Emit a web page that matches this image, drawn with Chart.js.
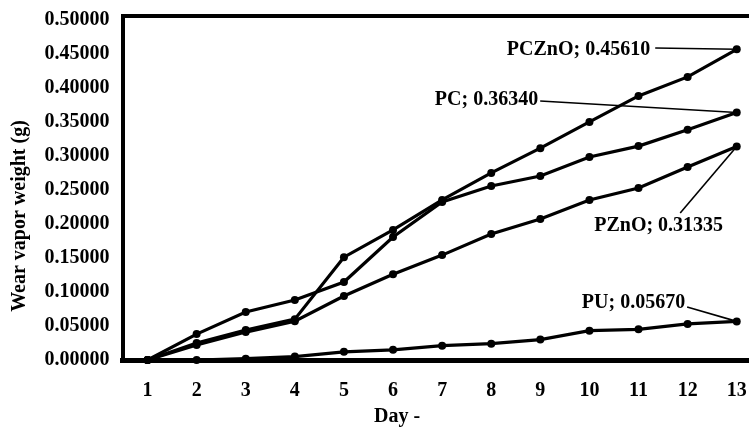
<!DOCTYPE html>
<html>
<head>
<meta charset="utf-8">
<script src="https://cdn.jsdelivr.net/npm/chart.js@4.4.0/dist/chart.umd.min.js"></script>
<style>
  html, body { margin: 0; padding: 0; background: #fff; }
  #wrap { width: 749px; height: 428px; }
</style>
</head>
<body>
<div id="wrap"><canvas id="chart" width="749" height="428"></canvas></div>
<script>
const days = [1, 2, 3, 4, 5, 6, 7, 8, 9, 10, 11, 12, 13];
const pczno = [0, 0.025, 0.044, 0.060, 0.151, 0.191, 0.235, 0.2746, 0.311, 0.3495, 0.3877, 0.4156, 0.45610];
const pc = [0, 0.038, 0.0705, 0.088, 0.1145, 0.1806, 0.232, 0.2555, 0.270, 0.298, 0.314, 0.338, 0.36340];
const pzno = [0, 0.022, 0.041, 0.057, 0.094, 0.126, 0.154, 0.185, 0.207, 0.235, 0.2526, 0.2834, 0.31335];
const pu = [0, 0.0, 0.002, 0.005, 0.012, 0.015, 0.021, 0.024, 0.030, 0.043, 0.045, 0.053, 0.05670];
const yTicks = [0, 0.05, 0.10, 0.15, 0.20, 0.25, 0.30, 0.35, 0.40, 0.45, 0.50];
const seriesNames = ['PCZnO', 'PC', 'PZnO', 'PU'];
const endLabels = ['PCZnO; 0.45610', 'PC; 0.36340', 'PZnO; 0.31335', 'PU; 0.05670'];

const FAMILY = '"Liberation Serif", "Times New Roman", serif';
const FONT = 'bold 20px ' + FAMILY;

// where each callout text sits and where its leader line starts (data units)
const callouts = [
    { tx: 11.238, ty: 0.4552, align: 'right', lx: 11.34, ly: 0.4581 },
    { tx: 8.956, ty: 0.3818, align: 'right', lx: 8.997, ly: 0.3803 },
    { tx: 11.41, ty: 0.1968, align: 'center', lx: 11.849, ly: 0.2159 },
    { tx: 11.95, ty: 0.0837, align: 'right', lx: 11.99, ly: 0.0778 }
];

const toXY = arr => arr.map((v, i) => ({ x: days[i], y: v }));

const calloutPlugin = {
    id: 'callouts',
    afterDatasetsDraw(chart) {
        const { ctx, chartArea, scales: { x, y } } = chart;
        ctx.save();
        ctx.font = FONT;
        ctx.fillStyle = '#000';
        ctx.strokeStyle = '#000';
        ctx.lineWidth = 1.6;
        callouts.forEach((c, i) => {
            const data = chart.data.datasets[i].data;
            const last = data[data.length - 1];
            const px = x.getPixelForValue(last.x);
            const py = y.getPixelForValue(last.y);
            ctx.beginPath();
            ctx.moveTo(x.getPixelForValue(c.lx), y.getPixelForValue(c.ly));
            ctx.lineTo(px, py);
            ctx.stroke();
            ctx.textAlign = c.align;
            ctx.textBaseline = 'middle';
            ctx.fillText(endLabels[i], x.getPixelForValue(c.tx), y.getPixelForValue(c.ty));
        });

        // axis titles
        ctx.textAlign = 'center';
        ctx.textBaseline = 'middle';
        ctx.fillText('Day -', chartArea.left + 274.5, chartArea.bottom + 57);
        ctx.translate(20, 216);
        ctx.rotate(-Math.PI / 2);
        ctx.fillText('Wear vapor weight (g)', 0, 0);
        ctx.restore();
    }
};

const tickFont = { family: FAMILY, size: 20, weight: 'bold' };

const ctx = document.getElementById('chart').getContext('2d');
new Chart(ctx, {
    type: 'line',
    data: {
        datasets: [pczno, pc, pzno, pu].map((arr, i) => ({
            label: seriesNames[i],
            data: toXY(arr),
            borderColor: '#000',
            backgroundColor: '#000',
            borderWidth: 3.2,
            pointRadius: 4,
            pointBackgroundColor: '#000',
            pointBorderColor: '#000',
            pointBorderWidth: 0,
            tension: 0,
            clip: false
        }))
    },
    options: {
        responsive: false,
        animation: false,
        devicePixelRatio: 1,
        layout: { padding: 0, autoPadding: false },
        plugins: {
            legend: { display: false },
            tooltip: { enabled: false }
        },
        scales: {
            x: {
                type: 'linear',
                position: 'bottom',
                min: 0.49,
                max: 13.25,
                afterBuildTicks: s => { s.ticks = days.map(v => ({ value: v })); },
                afterFit: s => { s.height = 68; s.paddingLeft = 0; s.paddingRight = 0; },
                grid: { display: false, drawTicks: false },
                border: { display: true, color: '#000', width: 5 },
                ticks: {
                    color: '#000',
                    font: tickFont,
                    padding: 19,
                    maxRotation: 0,
                    callback: v => String(v)
                }
            },
            xTop: {
                type: 'linear',
                position: 'top',
                afterFit: s => { s.height = 16; s.paddingLeft = 0; s.paddingRight = 0; },
                grid: { display: false, drawTicks: false },
                border: { display: true, color: '#000', width: 4 },
                ticks: { display: false }
            },
            y: {
                min: 0,
                max: 0.505,
                afterBuildTicks: s => { s.ticks = yTicks.map(v => ({ value: v })); },
                afterFit: s => { s.width = 122.5; s.paddingTop = 0; s.paddingBottom = 0; },
                grid: { display: false, drawTicks: false },
                border: { display: true, color: '#000', width: 4 },
                ticks: {
                    color: '#000',
                    font: tickFont,
                    padding: 13,
                    callback: v => v.toFixed(5)
                }
            }
        }
    },
    plugins: [calloutPlugin]
});
</script>
</body>
</html>
